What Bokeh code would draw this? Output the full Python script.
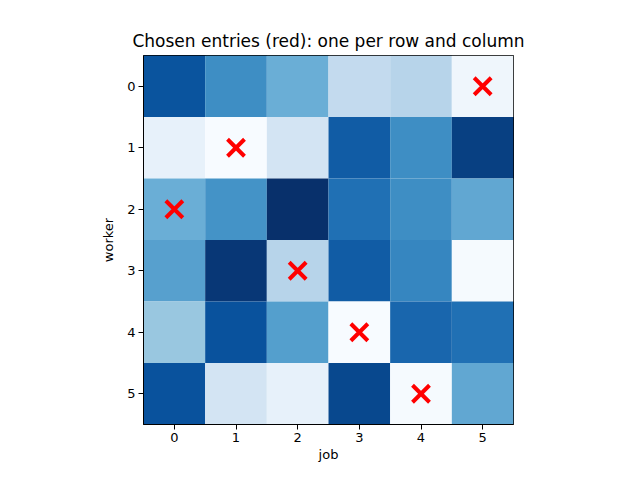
from bokeh.embed import file_html
from bokeh.models import Range1d, ColumnDataSource, LinearColorMapper
from bokeh.palettes import Blues256
from bokeh.plotting import figure
from bokeh.resources import INLINE

# cost matrix (normalised shades), rows = worker, columns = job
row0 = [0.86, 0.64, 0.50, 0.26, 0.30, 0.04]
row1 = [0.08, 0.00, 0.18, 0.83, 0.64, 0.94]
row2 = [0.50, 0.62, 1.00, 0.75, 0.64, 0.53]
row3 = [0.56, 0.97, 0.30, 0.83, 0.67, 0.01]
row4 = [0.39, 0.87, 0.57, 0.00, 0.79, 0.75]
row5 = [0.87, 0.18, 0.08, 0.91, 0.01, 0.53]
rows = [row0, row1, row2, row3, row4, row5]

# chosen assignment: worker -> job
chosen_worker = [0, 1, 2, 3, 4, 5]
chosen_job = [5, 1, 0, 2, 3, 4]

FONT = "DejaVu Sans"

xs, ys, vals = [], [], []
for i, r in enumerate(rows):
    for j, v in enumerate(r):
        xs.append(j)
        ys.append(i)
        vals.append(v)
src = ColumnDataSource(dict(x=xs, y=ys, v=vals))

p = figure(width=624, height=464, output_backend="svg", toolbar_location=None,
           x_range=Range1d(-0.5, 5.5), y_range=Range1d(5.5, -0.5),
           title="Chosen entries (red): one per row and column",
           min_border_left=143, min_border_right=111,
           min_border_top=55, min_border_bottom=37)

mapper = LinearColorMapper(palette=list(reversed(Blues256)), low=0, high=1)
p.rect(x="x", y="y", width=1, height=1, source=src,
       fill_color={"field": "v", "transform": mapper}, line_color=None)

p.scatter(chosen_job, chosen_worker, marker="x", size=24,
          line_color="red", line_width=4)

p.title.align = "center"
p.title.text_font = FONT
p.title.text_font_style = "normal"
p.title.text_font_size = "17px"
p.title.text_color = "black"

p.xaxis.axis_label = "job"
p.yaxis.axis_label = "worker"
for ax in (p.xaxis[0], p.yaxis[0]):
    ax.axis_label_text_font = FONT
    ax.axis_label_text_font_style = "normal"
    ax.axis_label_text_font_size = "13px"
    ax.axis_label_text_color = "black"
    ax.axis_label_standoff = 2
    ax.major_label_text_font = FONT
    ax.major_label_text_font_size = "13px"
    ax.major_label_text_color = "black"
    ax.major_label_standoff = 3
    ax.ticker = [0, 1, 2, 3, 4, 5]
    ax.major_tick_in = 0
    ax.major_tick_out = 5
    ax.minor_tick_line_color = None
    ax.axis_line_color = "black"
    ax.major_tick_line_color = "black"
p.yaxis.major_label_orientation = "horizontal"
p.yaxis.axis_label_standoff = 8

p.grid.visible = False
p.outline_line_color = "black"
p.outline_line_alpha = 1
p.background_fill_color = "white"
p.border_fill_color = "white"

open("out.html", "w").write(file_html(p, INLINE))
